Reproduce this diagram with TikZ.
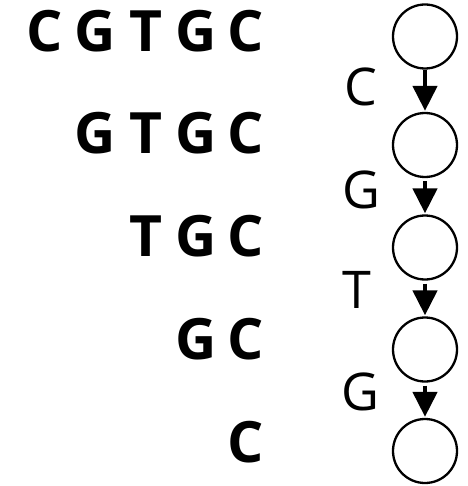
\documentclass[tikz,border=0pt]{standalone}
\usepackage{fontspec}
\setmainfont{Open Sans}
\usetikzlibrary{arrows.meta}
\tikzset{
  seqletter/.style={inner sep=0pt, anchor=base, font=\fontsize{57}{60}\selectfont\bfseries},
  edgelabel/.style={inner sep=0pt, anchor=base, font=\fontsize{52}{56}\selectfont},
  state/.style={circle, draw, line width=2.3pt, minimum size=64pt, inner sep=0pt},
  arr/.style={line width=4.5pt, -{Triangle[width=24pt,length=25pt]}}
}
\begin{document}
\begin{tikzpicture}[x=1pt,y=-1pt]
\useasboundingbox (0,0) rectangle (467,486);
% rows of letters
\foreach \txt [count=\i] in {C,G,T,G,C} {
  \pgfmathsetmacro{\xx}{{45,95,146,196,246}[\i-1]}
  \node[seqletter] (r1l\i) at (\xx,51.5) {\txt};
}
\foreach \txt [count=\i] in {G,T,G,C} {
  \pgfmathsetmacro{\xx}{{95,146,196,246}[\i-1]}
  \node[seqletter] (r2l\i) at (\xx,153.5) {\txt};
}
\foreach \txt [count=\i] in {T,G,C} {
  \pgfmathsetmacro{\xx}{{146,196,246}[\i-1]}
  \node[seqletter] (r3l\i) at (\xx,256.5) {\txt};
}
\foreach \txt [count=\i] in {G,C} {
  \pgfmathsetmacro{\xx}{{196,246}[\i-1]}
  \node[seqletter] (r4l\i) at (\xx,359.5) {\txt};
}
\node[seqletter] (r5l1) at (246,462.5) {C};
% states
\node[state] (c1) at (425,36.5) {};
\node[state] (c2) at (425,145) {};
\node[state] (c3) at (425,247.5) {};
\node[state] (c4) at (425,349.5) {};
\node[state] (c5) at (425,451) {};
% arrows
\draw[arr] (c1.south) -- ([yshift=1pt]c2.north);
\draw[arr] ([yshift=-3pt]c2.south) -- ([yshift=1pt]c3.north);
\draw[arr] ([yshift=-3pt]c3.south) -- ([yshift=1pt]c4.north);
\draw[arr] ([yshift=-3pt]c4.south) -- ([yshift=1pt]c5.north);
% labels
\node[edgelabel] (e1) at (361,106) {C};
\node[edgelabel] (e2) at (361,208.5) {G};
\node[edgelabel] (e3) at (357,308) {T};
\node[edgelabel] (e4) at (360,410.5) {G};
\end{tikzpicture}
\end{document}
